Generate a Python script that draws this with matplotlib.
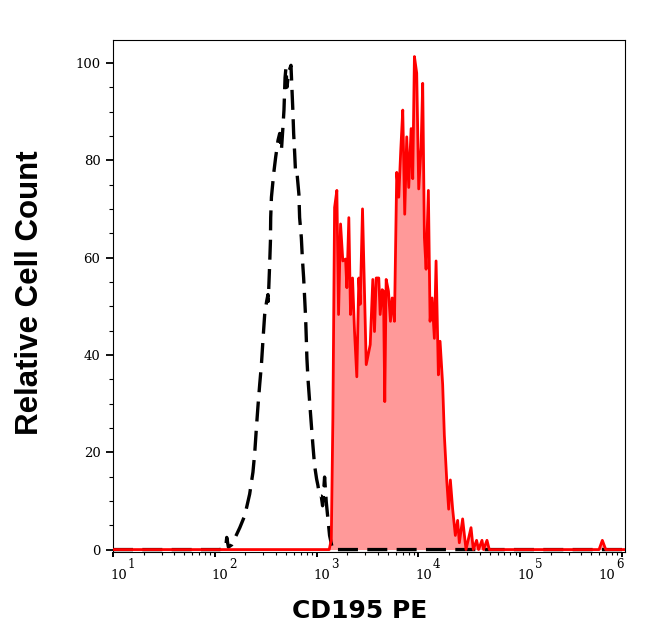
import matplotlib
matplotlib.use('Agg')
import matplotlib.pyplot as plt
from matplotlib.ticker import MultipleLocator, LogLocator, NullFormatter

# isotype control (dashed black), PE intensity vs relative count
iso_x = [10, 112, 128, 131, 136, 147, 176, 197, 220, 237, 247, 256, 266, 276,
         287, 298, 309, 323, 333, 335, 346, 352, 354, 360, 379, 396, 418, 434,
         451, 467, 478, 490, 500, 512, 530, 560, 577, 586, 595, 609, 623, 644,
         670, 681, 708, 724, 746, 763, 780, 792, 803, 822, 854, 888, 920, 955,
         1000, 1030, 1069, 1111, 1145, 1198, 1245, 1341, 1435, 1.07e6]
iso_y = [0, 0, 0.5, 2.5, 0.5, 1, 4.5, 7, 11.4, 15.9, 20, 24.9, 29.7, 33.9,
         38, 43.4, 48.3, 51, 52.4, 51, 58.7, 63.4, 68.2, 72.4, 77.3, 80.6, 84.1, 85.5,
         82, 86.8, 90.3, 97, 99, 95, 98, 99.5, 93, 89.6, 85.5, 81.4, 76.9, 77,
         73, 68.2, 64.1, 60, 55.8, 51.7, 47.6, 43.4, 39.3, 35.2, 30.4, 25.6, 21.4, 17.3,
         14.5, 13.2, 11, 11, 9, 14.9, 9.7, 2.9, 0, 0]

# CD195 stained sample (red filled)
pe_x = [10, 1330, 1394, 1445, 1502, 1581, 1643, 1719, 1810, 1925, 1982, 2073,
        2154, 2254, 2358, 2483, 2598, 2682, 2825, 3072, 3362, 3565, 3704, 3849,
        4081, 4212, 4406, 4538, 4673, 4823, 5080, 5315, 5523, 5817, 6128, 6412,
        6708, 7019, 7338, 7680, 8035, 8480, 8795, 9138, 9623, 10070, 10630, 11020,
        11450, 11900, 12530, 13020, 13630, 14350, 14910, 15710, 16320, 17310, 17980, 18950,
        19830, 20600, 21700, 23060, 24290, 25230, 27190, 29350, 32870, 34610, 37290, 39010,
        42120, 43670, 47160, 49680, 595000, 641000, 692000, 1.07e6]
pe_y = [0, 0, 2, 27, 70.3, 73.8, 48.3, 66.9, 59.3, 59.7, 53.8, 68.2,
        48.3, 55.8, 44.8, 35.5, 55.8, 50.4, 70, 38, 42.1, 55.5, 44.8, 55.8,
        55.8, 48.3, 53.4, 53.1, 30.4, 55.5, 53.1, 46.9, 51.7, 46.9, 77.5, 72.4,
        82, 90.3, 68.9, 84.8, 74.4, 86.5, 76.2, 101.3, 97.9, 74.1, 82.7, 95.8,
        64.1, 57.6, 73.8, 46.9, 51.7, 43.4, 59.3, 35.9, 42.8, 33.9, 23.5, 14.5,
        8.3, 14.3, 8.3, 2.9, 6, 1.4, 6.3, 0, 4.5, 0, 1.9, 0,
        1.9, 0, 1.9, 0, 0, 1.9, 0, 0]

decades = [1, 2, 3, 4, 5, 6]

fig = plt.figure(figsize=(6.46, 6.41), dpi=100)
ax = fig.add_axes([113 / 646, 89 / 641, 512 / 646, 512 / 641])

ax.fill_between(pe_x, pe_y, 0, color='#ff9999', lw=0, zorder=1)
ax.plot(iso_x, iso_y, color='black', lw=2.4, ls=(0, (6, 2.8)), zorder=2)
ax.plot(pe_x, pe_y, color='#ff0000', lw=2.0, zorder=3)

ax.set_xscale('log')
ax.set_xlim(10, 1.07e6)
ax.set_ylim(-0.5, 104.7)

ax.yaxis.set_major_locator(MultipleLocator(20))
ax.yaxis.set_minor_locator(MultipleLocator(5))
ax.xaxis.set_major_locator(LogLocator(base=10))
ax.xaxis.set_minor_locator(LogLocator(base=10, subs=range(2, 10)))
ax.xaxis.set_minor_formatter(NullFormatter())

ax.tick_params(axis='y', which='major', length=5, width=1.3, labelsize=9.5,
               pad=4, labelfontfamily='DejaVu Serif')
ax.tick_params(axis='y', which='minor', length=3, width=0.8)
ax.tick_params(axis='x', which='major', length=3.6, width=1.4, labelbottom=False)
ax.tick_params(axis='x', which='minor', length=2.4, width=0.8)
for s in ax.spines.values():
    s.set_linewidth(0.8)

# decade labels drawn as "10" + raised exponent, left-aligned at the tick
base_w = 12.0   # width of "10" in points
sup_w = 5.4     # width of one exponent digit in points
for k in decades:
    xy = (10.0 ** k, 0)
    if k == decades[-1]:
        sup_dx, base_dx, ha = 1.0, 1.0 - sup_w - 0.6, 'right'
    else:
        base_dx, ha = -2.2, 'left'
        sup_dx = base_dx + base_w + 0.6
    ax.annotate('10', xy=xy, xycoords=('data', 'axes fraction'),
                xytext=(base_dx, -19.4), textcoords='offset points',
                ha=ha, va='baseline', fontsize=9.5, family='DejaVu Serif')
    ax.annotate(str(k), xy=xy, xycoords=('data', 'axes fraction'),
                xytext=(sup_dx, -11.2), textcoords='offset points',
                ha=ha, va='baseline', fontsize=8.6, family='DejaVu Serif')

fig.text(30 / 646, 1 - 293 / 641, 'Relative Cell Count', rotation=90,
         ha='center', va='center', fontsize=22.5, fontweight='bold',
         family='Liberation Sans')
fig.text(360 / 646, 1 - 611 / 641, 'CD195 PE', ha='center', va='center',
         fontsize=18, fontweight='bold', family='DejaVu Sans')

fig.savefig('out.png', dpi=100)
